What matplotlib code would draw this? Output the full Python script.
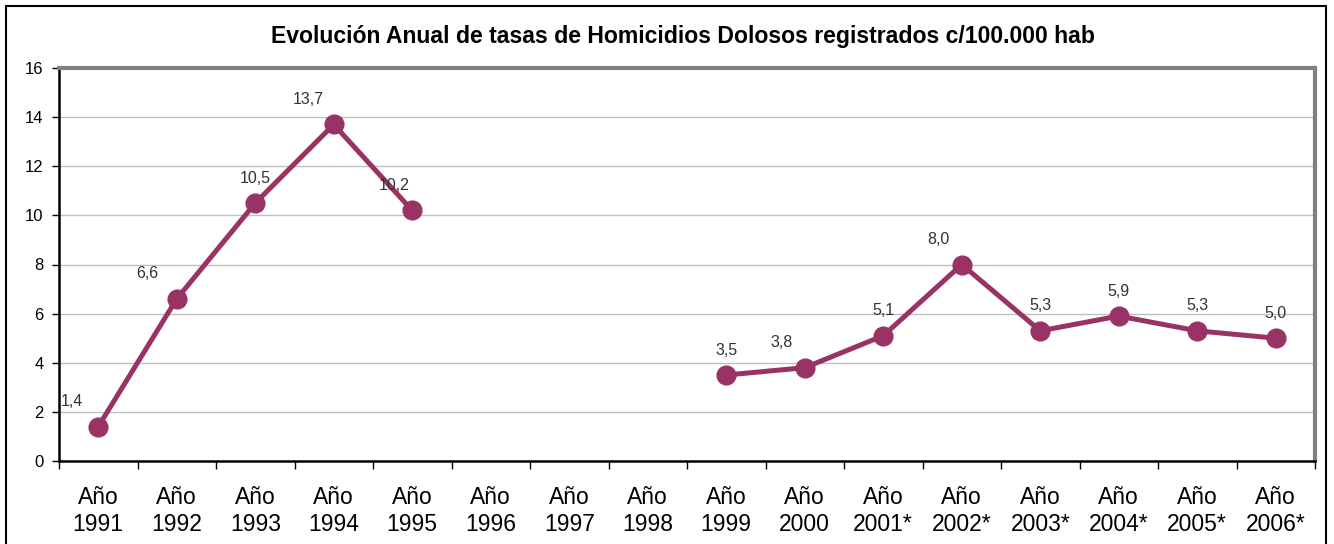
import numpy as np
import matplotlib
matplotlib.use("Agg")
import matplotlib.pyplot as plt
from matplotlib.patches import Rectangle

plt.rcParams['font.family'] = ['Liberation Sans', 'DejaVu Sans']

categories = ["Año\n1991", "Año\n1992", "Año\n1993", "Año\n1994", "Año\n1995", "Año\n1996",
              "Año\n1997", "Año\n1998", "Año\n1999", "Año\n2000", "Año\n2001*", "Año\n2002*",
              "Año\n2003*", "Año\n2004*", "Año\n2005*", "Año\n2006*"]
values = [1.4, 6.6, 10.5, 13.7, 10.2, np.nan, np.nan, np.nan,
          3.5, 3.8, 5.1, 8.0, 5.3, 5.9, 5.3, 5.0]
labels = ["1,4", "6,6", "10,5", "13,7", "10,2", "", "", "",
          "3,5", "3,8", "5,1", "8,0", "5,3", "5,9", "5,3", "5,0"]
title = "Evolución Anual de tasas de Homicidios Dolosos registrados c/100.000 hab"

# label placement style (horizontal shift in points, per label)
label_dx = [-19, -21, 0, -18, -13, 0, 0, 0, 0, -17, 0, -17, 0, 0, 0, 0]

color = "#993366"

fig = plt.figure(figsize=(13.34, 5.44), dpi=100)
ax = fig.add_axes([59/1334, 83/544, (1315-59)/1334, (461-68)/544])

x = np.arange(len(categories))
ax.plot(x, values, color=color, lw=3.6, marker='o', markersize=13.5,
        markerfacecolor=color, markeredgecolor=color, zorder=3)

for xi, v, lab, dx in zip(x, values, labels, label_dx):
    if lab:
        ax.annotate(lab, (xi, v), xytext=(dx, 18), textcoords='offset points',
                    ha='center', va='center', fontsize=11.5, color='#333333',
                    zorder=4)

ax.set_xlim(-0.5, len(categories) - 0.5)
ax.set_ylim(0, 16)
ax.set_yticks(np.arange(0, 17, 2))
ax.tick_params(axis='y', labelsize=12, length=5, width=1, direction='out', pad=6)

ax.set_xticks(x)
ax.set_xticklabels(categories, fontsize=16.5, linespacing=1.2)
ax.set_xticks(np.arange(-0.5, len(categories), 1), minor=True)
ax.tick_params(axis='x', which='major', length=0, pad=18)
ax.tick_params(axis='x', which='minor', length=6, width=1, direction='out')

ax.yaxis.grid(True, color='#C0C0C0', lw=1)
ax.set_axisbelow(True)

for s in ['top', 'right']:
    ax.spines[s].set_color('#808080')
    ax.spines[s].set_linewidth(3)
for s in ['left', 'bottom']:
    ax.spines[s].set_color('black')
    ax.spines[s].set_linewidth(1.8)

fig.text(683/1334, 1 - 37/544, title, ha='center', va='center',
         fontsize=16.6, fontweight='bold')

fig.patches.append(Rectangle((6/1334, -0.1), (1326-6)/1334, (544-6)/544 + 0.1,
                             transform=fig.transFigure, fill=False,
                             edgecolor='black', lw=1.5))

fig.savefig("out.png", dpi=100)
